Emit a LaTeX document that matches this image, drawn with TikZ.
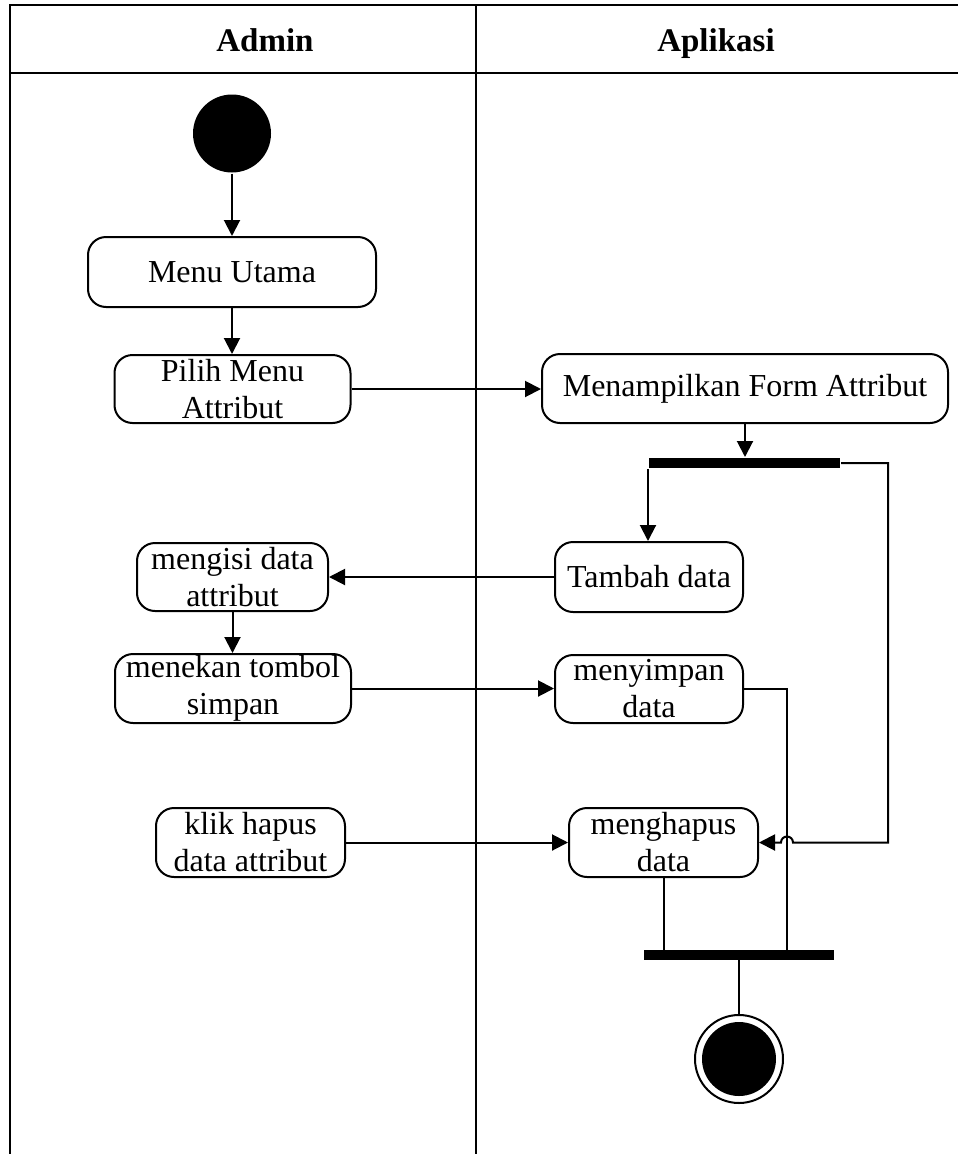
\documentclass[tikz,border=0pt]{standalone}
\usepackage{fontspec}
\setmainfont{Liberation Serif}
\usetikzlibrary{arrows.meta}
\begin{document}
\begin{tikzpicture}[x=1pt,y=-1pt,line width=2pt,
  activity/.style={draw,rounded corners=18pt,inner sep=0pt,align=center,
    font=\fontsize{32}{37}\selectfont},
  bar/.style={fill=black,draw=none,inner sep=0pt,minimum height=10pt},
  lanetitle/.style={anchor=base,font=\fontsize{33}{38}\selectfont\bfseries},
  flow/.style={-{Triangle[length=16pt,width=16pt]}}]
\useasboundingbox (0,0) rectangle (958,1154);

% swimlane frame
\draw (958,5) -- (10,5) -- (10,1154);
\draw (10,73) -- (958,73);
\draw (476,5) -- (476,1154);
\node[lanetitle] (laneA) at (265,51) {Admin};
\node[lanetitle] (laneB) at (716,51) {Aplikasi};

% activities
\node[circle,fill=black,inner sep=0pt,minimum size=78pt] (start) at (232,133.5) {};
\node[activity,minimum width=288pt,minimum height=70pt] (menu) at (232,272) {Menu Utama};
\node[activity,minimum width=236pt,minimum height=68pt] (pilih) at (232.5,389) {Pilih Menu\\Attribut};
\node[activity,minimum width=406pt,minimum height=69pt] (tampil) at (745,388.5) {Menampilkan Form Attribut};
\node[bar,minimum width=191pt] (fork) at (744.5,463) {};
\node[activity,minimum width=188pt,minimum height=70pt] (tambah) at (649,577) {Tambah data};
\node[activity,minimum width=191pt,minimum height=68pt] (isi) at (232.5,577) {mengisi data\\attribut};
\node[activity,minimum width=236pt,minimum height=69pt] (tekan) at (233,688.5) {menekan tombol\\simpan};
\node[activity,minimum width=188pt,minimum height=68pt] (simpan) at (649,689) {menyimpan\\data};
\node[activity,minimum width=189pt,minimum height=69pt] (klik) at (250.5,842.5) {klik hapus\\data attribut};
\node[activity,minimum width=189pt,minimum height=69pt] (hapus) at (663.5,842.5) {menghapus\\data};
\node[bar,minimum width=190pt] (join) at (739,954.5) {};
\node[circle,draw,inner sep=0pt,minimum size=88pt] (end) at (739,1059) {};
\fill (end.center) circle[radius=37pt];

% routing points
\coordinate (rt) at (888,463);
\coordinate (sj) at (787,689);

% connectors
\draw[flow] (start) -- (menu);
\draw[flow] (menu.south) -- (menu.south |- pilih.north);
\draw[flow] (pilih.east) -- (pilih.east -| tampil.west);
\draw[flow] (tampil.south) -- (tampil.south |- fork.north);
\draw[flow] (fork.south west) -- (fork.south west |- tambah.north);
\draw[flow] (fork.east) -- (rt) -- (rt |- hapus.east)
  -- ([xshift=6pt]sj |- hapus.east) arc[start angle=0,end angle=180,radius=6pt]
  -- (hapus.east);
\draw[flow] (tambah.west) -- (tambah.west -| isi.east);
\draw[flow] (isi.south) -- (isi.south |- tekan.north);
\draw[flow] (tekan.east) -- (tekan.east -| simpan.west);
\draw (simpan.east) -- (sj) -- ([yshift=-1pt]sj |- join.north);
\draw[flow] (klik.east) -- (klik.east -| hapus.west);
\draw (hapus.south) -- ([yshift=-1pt]hapus.south |- join.north);
\draw ([yshift=1pt]join.south) -- (end.north);
\end{tikzpicture}
\end{document}
